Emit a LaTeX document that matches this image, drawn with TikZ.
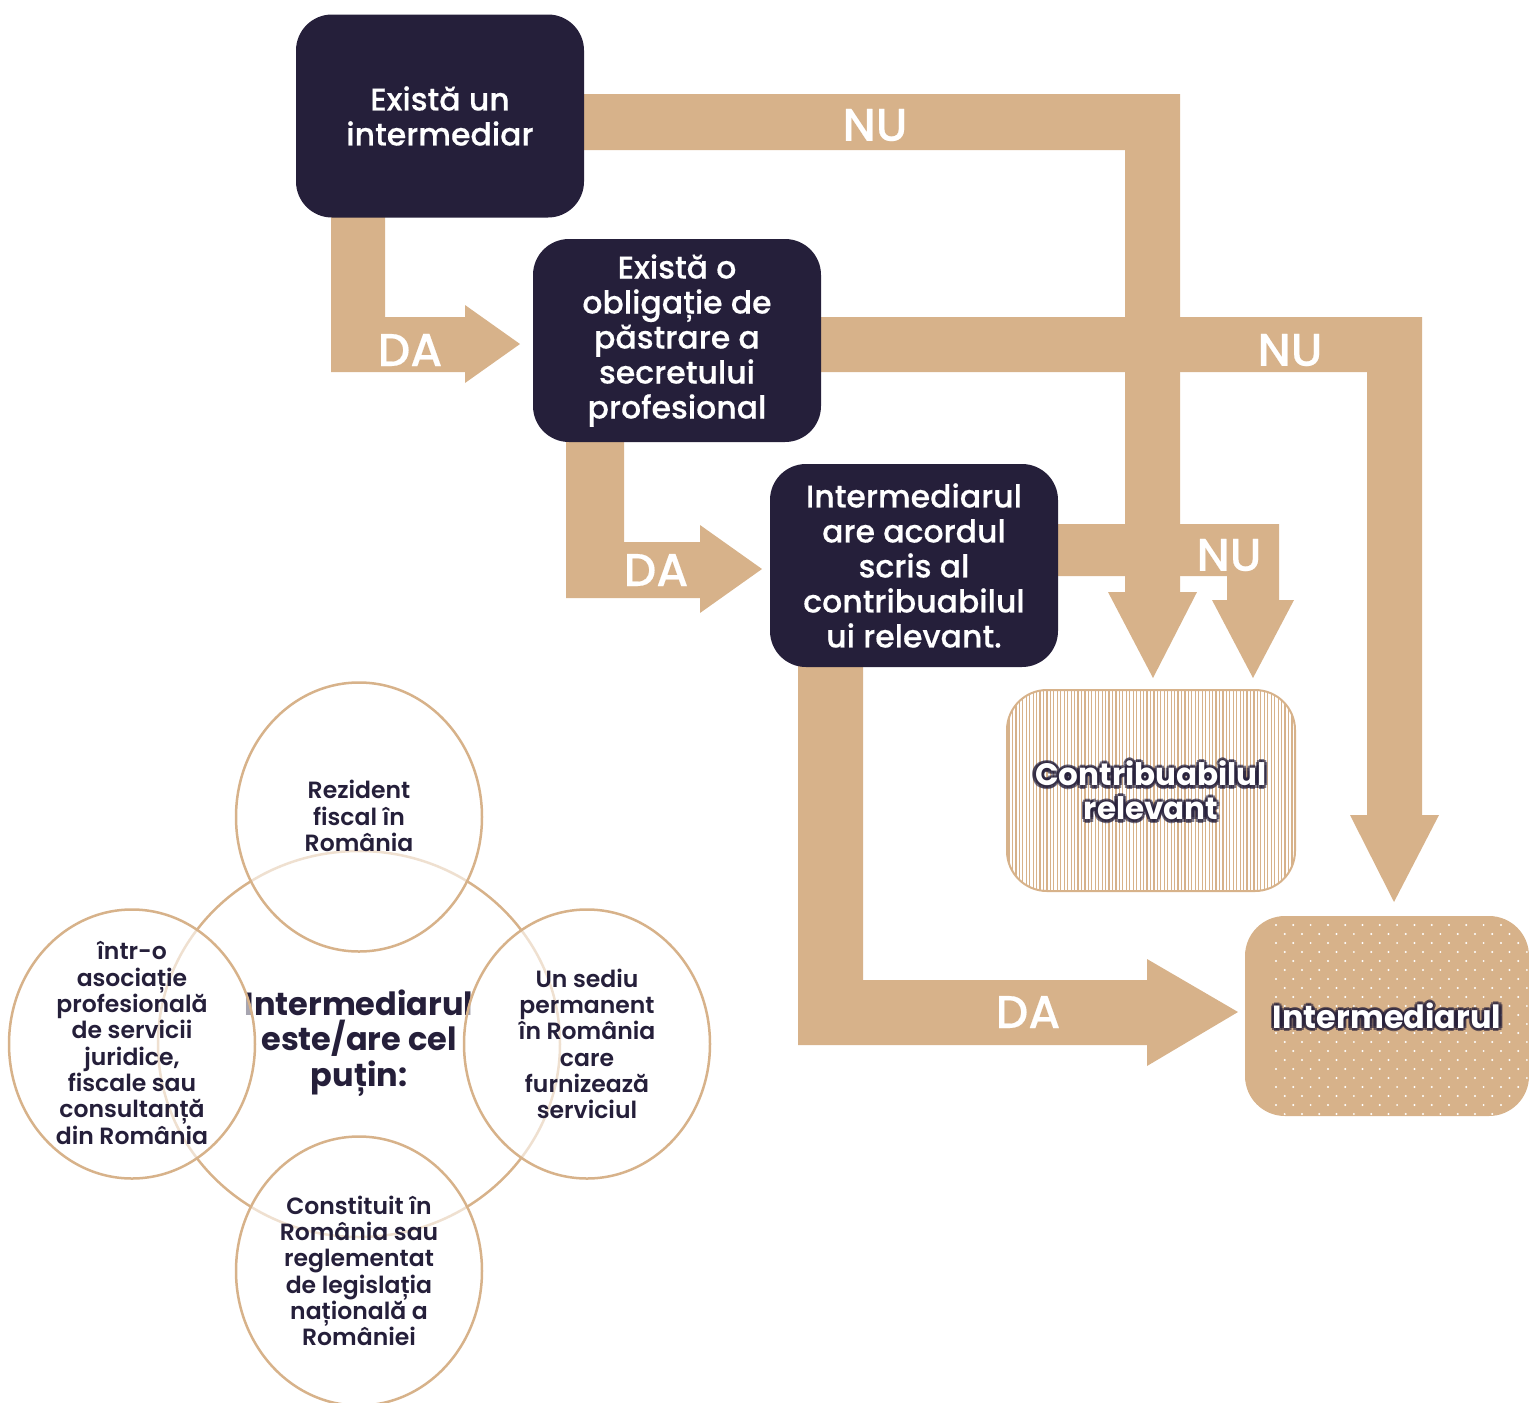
\documentclass[tikz,border=0pt]{standalone}
\usepackage{fontspec}
\usetikzlibrary{shapes.geometric}
\setmainfont{Poppins}
\IfFontExistsTF{Poppins Medium}{\newfontfamily\medfont{Poppins Medium}[FakeBold=0.3]}{\newfontfamily\medfont{Poppins}[FakeBold=1]}
\IfFontExistsTF{Poppins SemiBold}{\newfontfamily\semifont{Poppins SemiBold}}{\newfontfamily\semifont{Poppins}[FakeBold=1.5]}
\newfontfamily\boldfont{Poppins Bold}
\definecolor{navy}{HTML}{251F3A}
\definecolor{tanc}{HTML}{D7B28A}
\begin{document}
\begin{tikzpicture}[x=1pt,y=-1pt,
  flowbox/.style={fill=navy, rounded corners=36pt, minimum width=288pt, minimum height=203pt,
    text=white, align=center, inner sep=0pt, font=\medfont\fontsize{31.5}{35}\selectfont},
  fat/.style={fill=tanc, draw=none},
  lbl/.style={text=white, inner sep=0pt, font=\medfont\fontsize{46}{46}\selectfont},
  circnode/.style={ellipse, draw=tanc, line width=2.5pt, inner sep=0pt},
  smallcirc/.style={circnode, minimum width=246pt, minimum height=269pt, fill=white, fill opacity=0.6},
  circtext/.style={inner sep=0pt, align=center, text=navy, font=\semifont\fontsize{23.5}{26.3}\selectfont},
  glowtxt/.style={text=navy, text opacity=0.6, align=center, inner sep=0pt, font=\boldfont\fontsize{31}{34}\selectfont},
  whitetxt/.style={text=white, align=center, inner sep=0pt, font=\boldfont\fontsize{31}{34}\selectfont},
]
\useasboundingbox (0,0) rectangle (1529,1403);

% fat connectors
\fill[fat] (580,94) -- (1180,94) -- (1180,592) -- (1197,592) -- (1153,678) -- (1108,592) -- (1125,592) -- (1125,150) -- (580,150) -- cycle;
\fill[fat] (815,317) -- (1422,317) -- (1422,815) -- (1439,815) -- (1394,902) -- (1350,815) -- (1367,815) -- (1367,372) -- (815,372) -- cycle;
\fill[fat] (1050,524) -- (1279,524) -- (1279,600) -- (1294,600) -- (1253,678) -- (1212,600) -- (1227,600) -- (1227,576) -- (1050,576) -- cycle;
\fill[fat] (331,212) -- (385,212) -- (385,317) -- (465,317) -- (465,305) -- (520,344) -- (465,383) -- (465,372) -- (331,372) -- cycle;
\fill[fat] (566,437) -- (624,437) -- (624,542) -- (700,542) -- (700,525) -- (762,569) -- (700,613) -- (700,598) -- (566,598) -- cycle;
\fill[fat] (798,660) -- (863,660) -- (863,980) -- (1147,980) -- (1147,959) -- (1238,1012) -- (1147,1066) -- (1147,1045) -- (798,1045) -- cycle;

\node[lbl] (nu1) at (875,125) {NU};
\node[lbl] (nu2) at (1290,350) {NU};
\node[lbl] (nu3) at (1229,555) {NU};
\node[lbl] (da1) at (410,350) {DA};
\node[lbl] (da2) at (656,570) {DA};
\node[lbl] (da3) at (1028,1012) {DA};

% decision boxes
\node[flowbox] (b1) at (440,116) {Există un\\intermediar};
\node[flowbox] (b2) at (677,340.5) {Există o\\obligație de\\păstrare a\\secretului\\profesional};
\node[flowbox] (b3) at (914,565.5) {Intermediarul\\are acordul\\scris al\\contribuabilul\\ui relevant.};

% result: contribuabilul
\node[minimum width=288pt, minimum height=201pt, rounded corners=40pt, draw=tanc, line width=2pt,
  path picture={\foreach \i in {0,...,84} \draw[tanc, line width=1.2pt]
    ([xshift=\i*3.45pt+2pt]path picture bounding box.south west) -- ([xshift=\i*3.45pt+2pt]path picture bounding box.north west);}]
  (contrib) at (1151,790.5) {};
\foreach \a in {0,45,...,315}
  \node[glowtxt] at ([shift={(\a:3.2pt)}]contrib.center) {Contribuabilul\\relevant};
\node[whitetxt] (contribtxt) at (contrib.center) {Contribuabilul\\relevant};

% result: intermediarul
\node[minimum width=284pt, minimum height=200pt, rounded corners=40pt, fill=tanc,
  path picture={\foreach \r in {0,...,22} \foreach \c in {0,...,17} {
      \pgfmathsetmacro\off{mod(\r,2)*8.65}
      \fill[white] ([xshift=\c*17.3pt+\off pt+31pt, yshift=-\r*9pt-9pt]path picture bounding box.north west) circle (1.1pt);}}]
  (interm) at (1387,1016) {};
\foreach \a in {0,45,...,315}
  \node[glowtxt, font=\boldfont\fontsize{32}{34}\selectfont] at ([shift={(\a:3.2pt)}]interm.center) {Intermediarul};
\node[whitetxt, font=\boldfont\fontsize{32}{34}\selectfont] (intermtxt) at (interm.center) {Intermediarul};

% circles
\node[circnode, minimum width=402pt, minimum height=386pt] (big) at (359,1044) {};
\node[circtext, font=\boldfont\fontsize{32}{35.5}\selectfont] (bigtxt) at (359,1043) {Intermediarul\\este/are cel\\puțin:};
\node[smallcirc] (top) at (359,817) {};
\node[smallcirc] (left) at (132,1044) {};
\node[smallcirc] (right) at (587,1044) {};
\node[smallcirc] (bottom) at (359,1271) {};
\node[circtext] (toptxt) at (359,816) {Rezident\\fiscal în\\România};
\node[circtext] (lefttxt) at (132,1043) {într-o\\asociație\\profesională\\de servicii\\juridice,\\fiscale sau\\consultanță\\din România};
\node[circtext] (righttxt) at (587,1044) {Un sediu\\permanent\\în România\\care\\furnizează\\serviciul};
\node[circtext] (bottomtxt) at (359,1271) {Constituit în\\România sau\\reglementat\\de legislația\\națională a\\României};
\end{tikzpicture}
\end{document}
